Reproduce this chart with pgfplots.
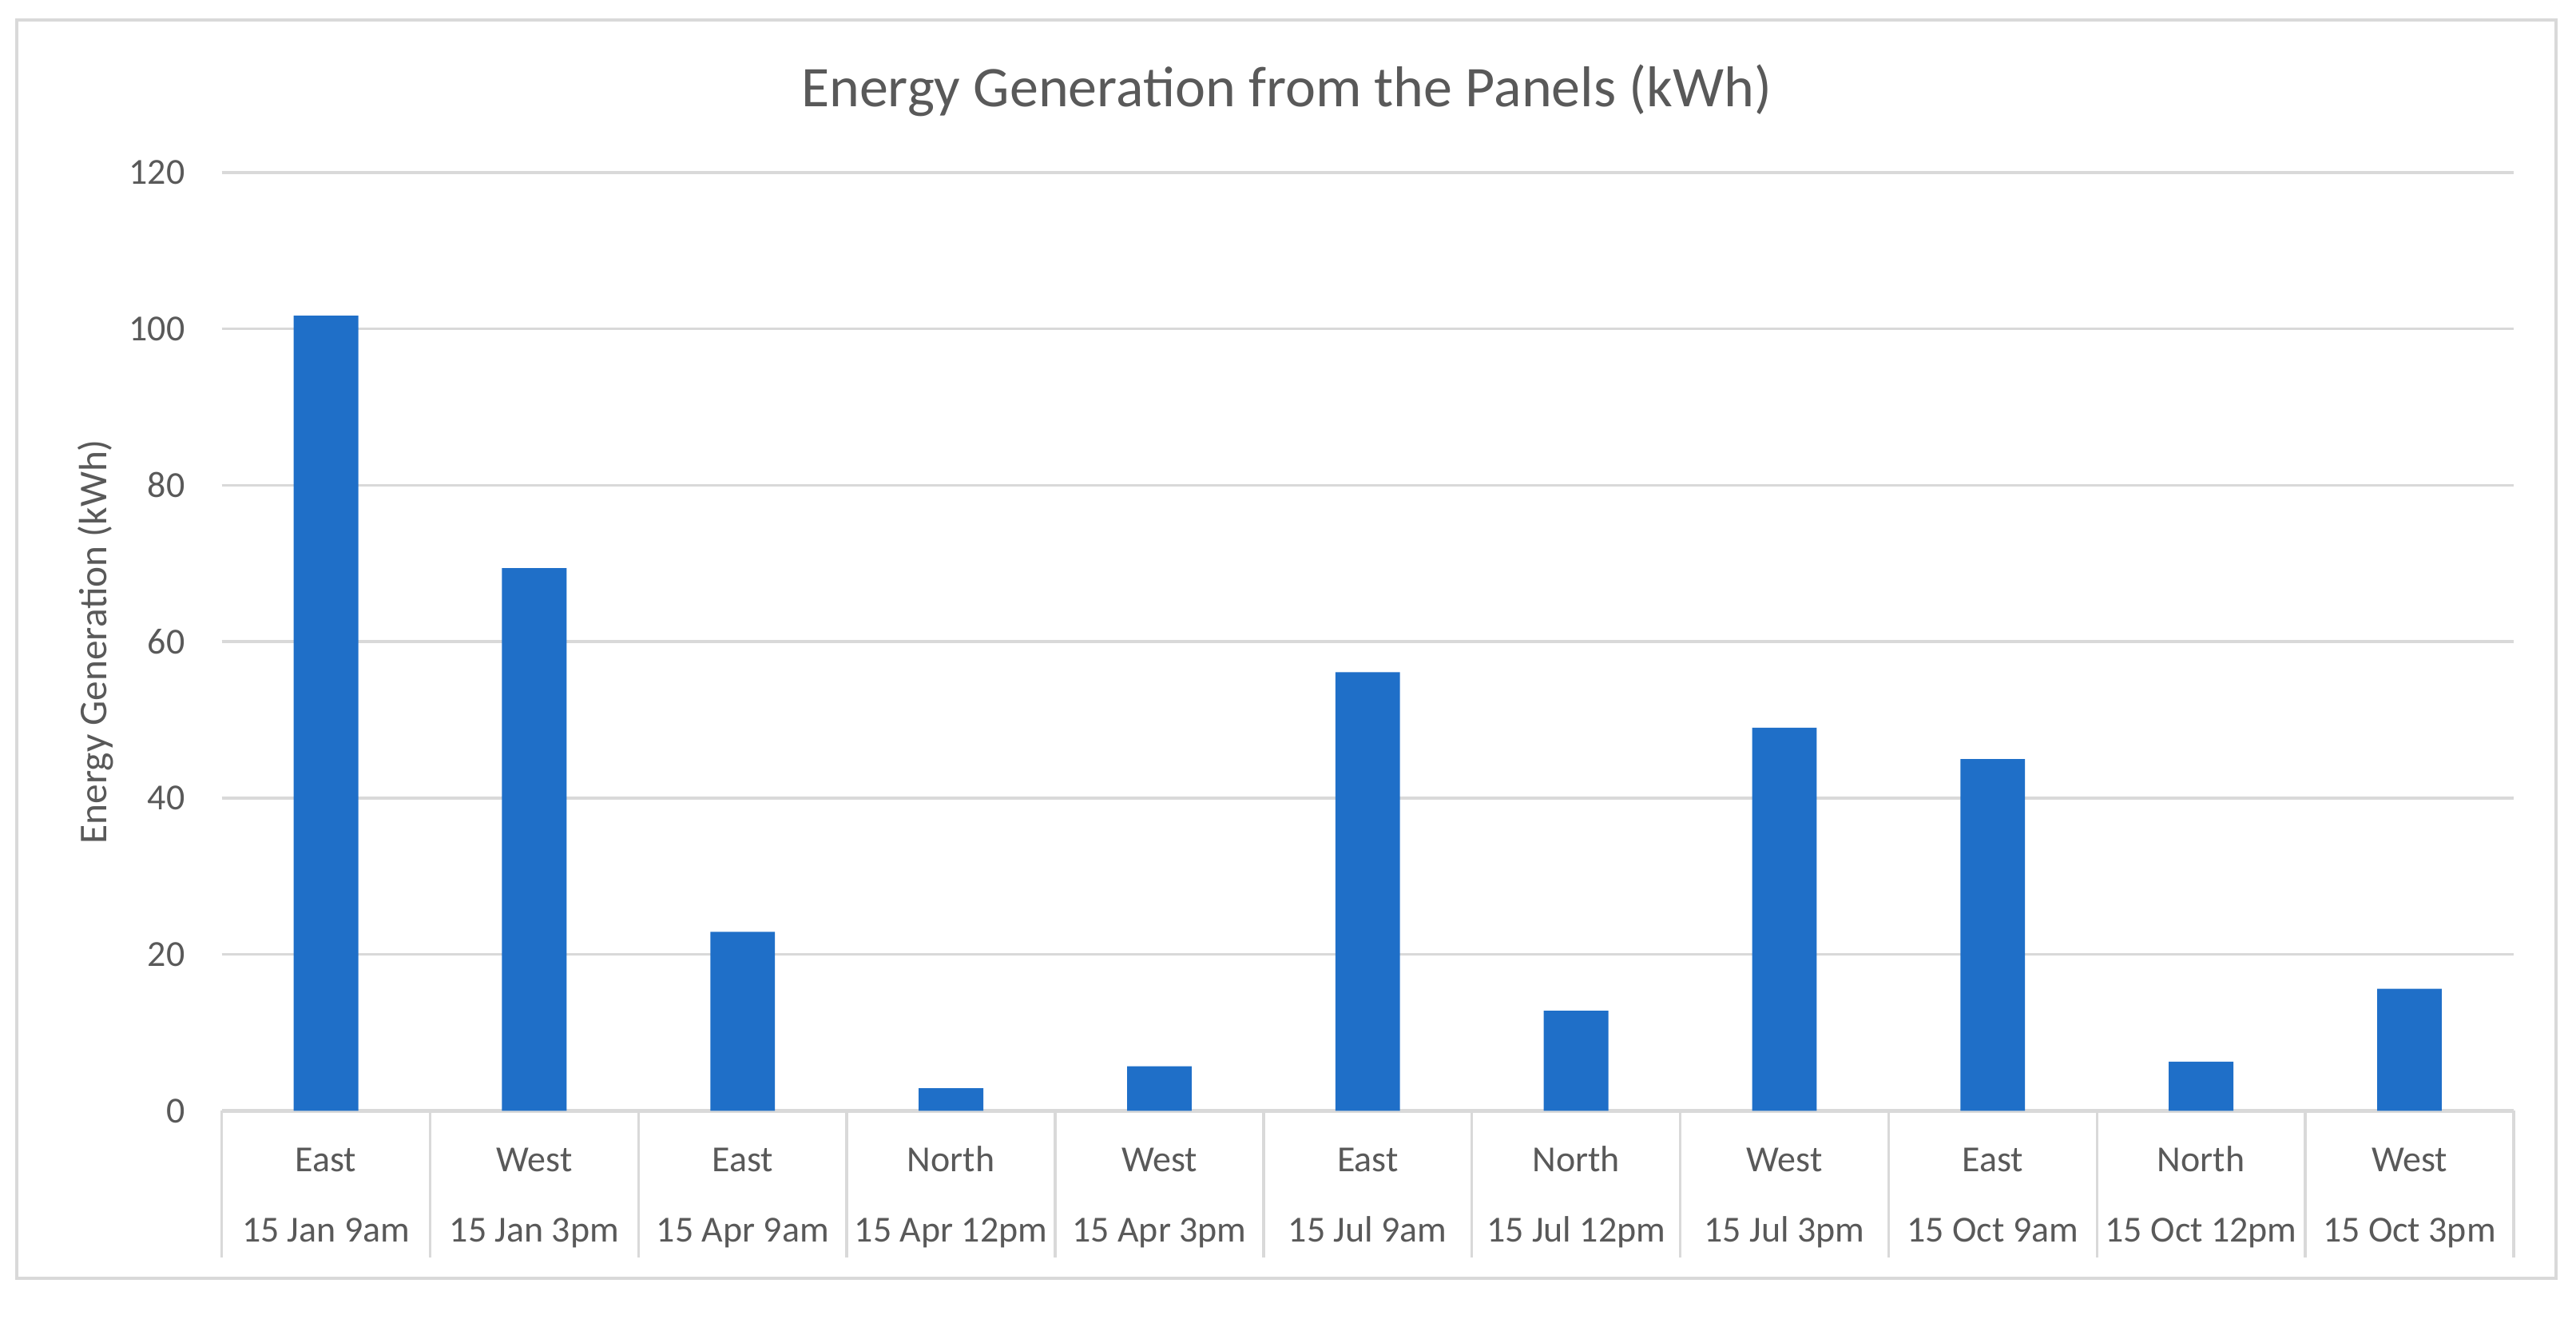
\documentclass[border=0pt]{standalone}
\usepackage{pgfplots}
\pgfplotsset{compat=1.18}
\usepackage{fontspec}
\setmainfont{Carlito}
\definecolor{barblue}{RGB}{31,111,200}
\definecolor{txtgray}{RGB}{89,89,89}
\definecolor{lgray}{RGB}{217,217,217}
\newcommand{\s}{\rule[-1.6pt]{0pt}{6.5pt}}
\begin{document}
\begin{tikzpicture}
% page and chart frame
\path[fill=white] (0,0) rectangle (470.4pt,236.1pt);
\draw[lgray, line width=0.6pt] (3pt,2.7pt) rectangle (466.8pt,232.5pt);
\node[text=txtgray, font=\fontsize{10.5}{12}\selectfont] at (234.9pt,219.6pt)
  {Energy Generation from the Panels (kWh)};
\begin{axis}[
  at={(40.5pt,33.3pt)}, anchor=south west,
  scale only axis, width=418.5pt, height=171.3pt,
  ybar, bar width=0.31,
  xmin=-0.5, xmax=10.5, ymin=0, ymax=120,
  enlargelimits=false,
  /pgf/number format/assume math mode=true,
  axis x line*=bottom, axis y line*=left,
  x axis line style={lgray, line width=0.8pt},
  y axis line style={draw=none},
  ytick={0,20,...,120},
  ymajorgrids, grid style={lgray, line width=0.5pt},
  ytick style={draw=none},
  yticklabel style={font=\fontsize{6.7}{8}\selectfont, text=txtgray, xshift=-3.2pt},
  xtick={0,...,10},
  xtick style={draw=none},
  xticklabels={{East\s\\15 Jan 9am\s},{West\s\\15 Jan 3pm\s},{East\s\\15 Apr 9am\s},
    {North\s\\15 Apr 12pm\s},{West\s\\15 Apr 3pm\s},{East\s\\15 Jul 9am\s},
    {North\s\\15 Jul 12pm\s},{West\s\\15 Jul 3pm\s},{East\s\\15 Oct 9am\s},
    {North\s\\15 Oct 12pm\s},{West\s\\15 Oct 3pm\s}},
  xticklabel style={font=\fontsize{6.7}{12.9}\selectfont, text=txtgray,
    align=center, anchor=center, yshift=-11.6pt},
  extra x ticks={-0.5,0.5,...,10.5},
  extra x tick labels={},
  extra x tick style={xtick style={draw=lgray, line width=0.5pt},
    major tick length=26.7pt, tick align=outside, grid=none},
  ylabel={Energy Generation (kWh)},
  ylabel style={font=\fontsize{7.2}{8}\selectfont, text=txtgray,
    at={(axis description cs:-0.0552,0.5)}, anchor=center},
]
\addplot[fill=barblue, draw=none] coordinates {
  (0,101.7) (1,69.4) (2,22.9) (3,2.9) (4,5.7) (5,56.1)
  (6,12.8) (7,49.0) (8,45.0) (9,6.3) (10,15.6)
};
\end{axis}
\end{tikzpicture}
\end{document}
